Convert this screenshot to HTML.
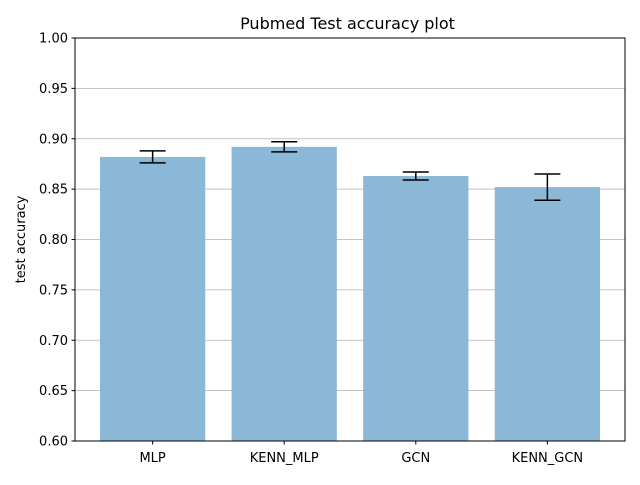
<!DOCTYPE html>
<html><head><meta charset="utf-8"><style>
body{margin:0;background:#fff;font-family:"Liberation Sans","DejaVu Sans",sans-serif;}
svg text{font-family:"DejaVu Sans","Liberation Sans",sans-serif;}
</style></head><body>
<svg id="chart" width="640" height="480" xmlns="http://www.w3.org/2000/svg">
<rect width="640" height="480" fill="#fff"/>
<g id="grid"></g>
<g id="bars"></g>
<g id="errs"></g>
<rect x="75" y="38" width="550" height="403" fill="none" stroke="#000" stroke-width="1"/>
<g id="yticks"></g>
<g id="xticks"></g>
<text x="347.5" y="29" text-anchor="middle" font-size="16">Pubmed Test accuracy plot</text>
<text transform="translate(25,239.5) rotate(-90)" text-anchor="middle" font-size="13">test accuracy</text>
</svg>
<script>
const categories=["MLP","KENN_MLP","GCN","KENN_GCN"];
const values=[0.882,0.892,0.863,0.852];
const errors=[0.006,0.005,0.004,0.013];
const yTicks=[0.60,0.65,0.70,0.75,0.80,0.85,0.90,0.95,1.00];
const NS="http://www.w3.org/2000/svg";
const L=75,R=625,T=38,B=441,yMin=0.6,yMax=1.0,xMin=-0.59,xMax=3.59;
function y(v){return B-(v-yMin)/(yMax-yMin)*(B-T);}
function x(i){return L+(i-xMin)/(xMax-xMin)*(R-L);}
function mk(tag,attrs,parent){const e=document.createElementNS(NS,tag);for(const k in attrs)e.setAttribute(k,attrs[k]);document.getElementById(parent).appendChild(e);return e;}
yTicks.forEach(t=>{
 if(t>yMin&&t<yMax){const g=mk('line',{x1:L,x2:R,y1:y(t),y2:y(t),stroke:'#b0b0b0','stroke-width':0.8},'grid');
 
 }
 const tk=mk('line',{x1:L-3.5,x2:L,y1:y(t),y2:y(t),stroke:'#000'},'yticks');
 
 
 const tx=mk('text',{x:L-7,y:y(t)+4.5,'text-anchor':'end','font-size':13},'yticks');
 tx.textContent=t.toFixed(2);
 
 
});
const bw=0.8*(R-L)/(xMax-xMin);
categories.forEach((c,i)=>{
 const cx=x(i);
 const b=mk('rect',{x:cx-bw/2,y:y(values[i]),width:bw,height:B-y(values[i]),fill:'#8cb8d8'},'bars');
 
 
 const hi=y(values[i]+errors[i]),lo=y(values[i]-errors[i]);
 const e1=mk('line',{x1:cx,x2:cx,y1:hi,y2:lo,stroke:'#000','stroke-width':1.5},'errs');
 
 
 [hi,lo].forEach(yy=>{const cap=mk('line',{x1:cx-13,x2:cx+13,y1:yy,y2:yy,stroke:'#000','stroke-width':1.5},'errs');
 
 });
 const tk=mk('line',{x1:cx,x2:cx,y1:B,y2:B+3.5,stroke:'#000'},'xticks');
 
 
 const tx=mk('text',{x:cx,y:B+21,'text-anchor':'middle','font-size':13},'xticks');
 tx.textContent=c;
 
 
});
</script>
</body></html>
